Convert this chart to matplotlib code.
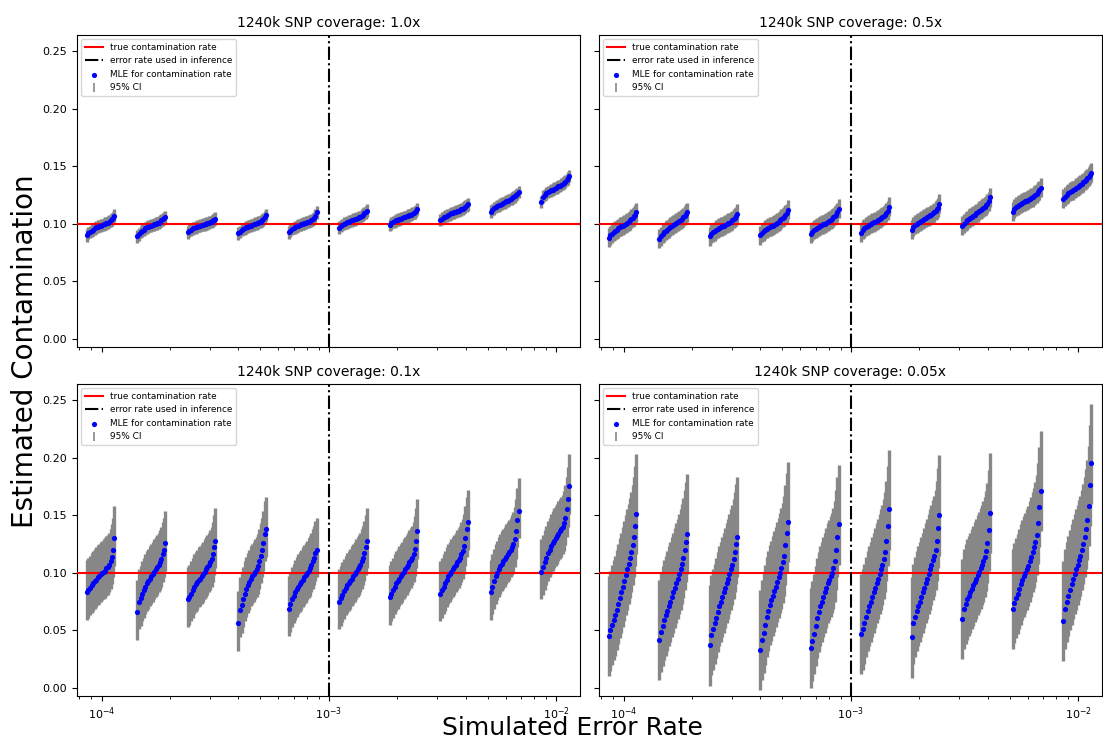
import numpy as np
import matplotlib
matplotlib.use("Agg")
import matplotlib.pyplot as plt

# ---------------- data ----------------
error_rates = [1.00e-4, 1.67e-4, 2.78e-4, 4.64e-4, 7.74e-4,
               1.29e-3, 2.15e-3, 3.59e-3, 5.99e-3, 1.00e-2]
inference_error_rate = 1e-3
true_contamination = 0.1
coverages = ["1.0x", "0.5x", "0.1x", "0.05x"]

# sorted MLEs (per error-rate cluster), coverage 1.0x
mle_cov_1_0 = [
    [0.090, 0.092, 0.093, 0.094, 0.095, 0.096, 0.097, 0.0975, 0.098, 0.0985, 0.099, 0.0995, 0.100, 0.1005, 0.101, 0.102, 0.103, 0.104, 0.105, 0.107],
    [0.089, 0.091, 0.093, 0.094, 0.095, 0.096, 0.097, 0.0975, 0.098, 0.0985, 0.099, 0.0995, 0.100, 0.1005, 0.101, 0.102, 0.103, 0.104, 0.105, 0.106],
    [0.0925, 0.094, 0.095, 0.096, 0.0965, 0.097, 0.0975, 0.098, 0.0985, 0.099, 0.0993, 0.0997, 0.100, 0.1005, 0.101, 0.1015, 0.102, 0.103, 0.1035, 0.1045],
    [0.0917, 0.093, 0.0945, 0.0955, 0.0962, 0.097, 0.0975, 0.098, 0.0985, 0.099, 0.0995, 0.100, 0.1005, 0.101, 0.1015, 0.102, 0.103, 0.104, 0.1055, 0.1076],
    [0.0926, 0.094, 0.0955, 0.0965, 0.097, 0.0978, 0.0985, 0.099, 0.0995, 0.100, 0.1005, 0.101, 0.1015, 0.102, 0.1025, 0.103, 0.104, 0.105, 0.107, 0.110],
    [0.0966, 0.098, 0.099, 0.100, 0.1007, 0.1013, 0.102, 0.1025, 0.103, 0.1035, 0.104, 0.1045, 0.105, 0.1055, 0.106, 0.107, 0.108, 0.109, 0.110, 0.1114],
    [0.099, 0.1005, 0.1015, 0.1022, 0.103, 0.1035, 0.104, 0.1045, 0.105, 0.1055, 0.106, 0.1065, 0.107, 0.1075, 0.108, 0.1088, 0.1095, 0.110, 0.111, 0.1128],
    [0.1033, 0.1045, 0.1055, 0.1062, 0.107, 0.1077, 0.1083, 0.109, 0.1095, 0.110, 0.1105, 0.111, 0.1115, 0.112, 0.1127, 0.1133, 0.114, 0.115, 0.116, 0.1169],
    [0.1105, 0.112, 0.1135, 0.1145, 0.1155, 0.116, 0.1167, 0.1175, 0.118, 0.1187, 0.1195, 0.120, 0.1207, 0.1215, 0.1222, 0.123, 0.124, 0.125, 0.126, 0.1276],
    [0.119, 0.1236, 0.125, 0.1265, 0.1275, 0.1285, 0.129, 0.1297, 0.1305, 0.131, 0.1318, 0.1325, 0.133, 0.134, 0.1348, 0.1357, 0.1367, 0.138, 0.1395, 0.1415],
]

# coverage 0.5x
mle_cov_0_5 = [
    [0.088, 0.090, 0.0915, 0.093, 0.094, 0.095, 0.096, 0.097, 0.0978, 0.0985, 0.0993, 0.100, 0.101, 0.102, 0.103, 0.104, 0.105, 0.1065, 0.108, 0.110],
    [0.087, 0.089, 0.091, 0.0925, 0.094, 0.095, 0.096, 0.097, 0.098, 0.099, 0.0998, 0.1005, 0.1015, 0.1025, 0.1035, 0.1045, 0.1055, 0.107, 0.1085, 0.110],
    [0.089, 0.091, 0.0925, 0.0935, 0.0945, 0.0955, 0.0962, 0.097, 0.0977, 0.0985, 0.099, 0.0997, 0.1005, 0.101, 0.102, 0.103, 0.104, 0.105, 0.1065, 0.1085],
    [0.090, 0.092, 0.0935, 0.0945, 0.0955, 0.0963, 0.097, 0.0978, 0.0985, 0.0993, 0.100, 0.101, 0.102, 0.103, 0.104, 0.105, 0.106, 0.1075, 0.109, 0.112],
    [0.091, 0.093, 0.0945, 0.0955, 0.0965, 0.0972, 0.098, 0.0988, 0.0995, 0.100, 0.101, 0.102, 0.1025, 0.1035, 0.1045, 0.1055, 0.107, 0.108, 0.110, 0.113],
    [0.092, 0.0945, 0.096, 0.097, 0.098, 0.099, 0.0998, 0.1005, 0.1013, 0.102, 0.1027, 0.1035, 0.1043, 0.105, 0.106, 0.107, 0.108, 0.1095, 0.111, 0.115],
    [0.095, 0.0975, 0.099, 0.100, 0.101, 0.102, 0.1027, 0.1035, 0.1042, 0.105, 0.1057, 0.1065, 0.1073, 0.108, 0.109, 0.110, 0.111, 0.1125, 0.114, 0.117],
    [0.098, 0.100, 0.1015, 0.103, 0.104, 0.105, 0.106, 0.107, 0.108, 0.109, 0.110, 0.111, 0.112, 0.113, 0.114, 0.115, 0.116, 0.1175, 0.1195, 0.123],
    [0.1105, 0.113, 0.1145, 0.1155, 0.1165, 0.1175, 0.118, 0.1188, 0.1195, 0.120, 0.1207, 0.1215, 0.1222, 0.123, 0.124, 0.125, 0.126, 0.1275, 0.129, 0.131],
    [0.1215, 0.1235, 0.125, 0.1265, 0.1275, 0.1285, 0.129, 0.130, 0.131, 0.132, 0.133, 0.134, 0.135, 0.136, 0.137, 0.1385, 0.1395, 0.141, 0.1425, 0.144],
]

# coverage 0.1x
mle_cov_0_1 = [
    [0.083, 0.085, 0.087, 0.089, 0.091, 0.093, 0.094, 0.096, 0.097, 0.099, 0.100, 0.101, 0.102, 0.104, 0.105, 0.107, 0.110, 0.114, 0.120, 0.130],
    [0.066, 0.075, 0.078, 0.082, 0.085, 0.088, 0.091, 0.093, 0.095, 0.097, 0.099, 0.101, 0.103, 0.105, 0.107, 0.109, 0.112, 0.116, 0.120, 0.126],
    [0.077, 0.079, 0.082, 0.085, 0.088, 0.090, 0.092, 0.094, 0.095, 0.097, 0.099, 0.101, 0.103, 0.105, 0.107, 0.109, 0.112, 0.116, 0.122, 0.128],
    [0.056, 0.068, 0.072, 0.077, 0.082, 0.086, 0.089, 0.092, 0.095, 0.097, 0.099, 0.101, 0.103, 0.106, 0.110, 0.115, 0.120, 0.126, 0.134, 0.138],
    [0.069, 0.073, 0.077, 0.080, 0.083, 0.086, 0.088, 0.090, 0.092, 0.094, 0.096, 0.098, 0.100, 0.102, 0.104, 0.107, 0.110, 0.113, 0.117, 0.120],
    [0.075, 0.078, 0.081, 0.084, 0.087, 0.089, 0.091, 0.093, 0.095, 0.097, 0.099, 0.101, 0.103, 0.105, 0.107, 0.110, 0.113, 0.117, 0.122, 0.128],
    [0.079, 0.082, 0.085, 0.088, 0.091, 0.093, 0.095, 0.097, 0.099, 0.101, 0.103, 0.105, 0.107, 0.109, 0.111, 0.113, 0.116, 0.121, 0.128, 0.136],
    [0.082, 0.085, 0.088, 0.091, 0.094, 0.097, 0.099, 0.101, 0.103, 0.105, 0.107, 0.109, 0.111, 0.113, 0.116, 0.119, 0.123, 0.130, 0.138, 0.144],
    [0.083, 0.088, 0.093, 0.097, 0.100, 0.103, 0.106, 0.108, 0.110, 0.112, 0.114, 0.116, 0.118, 0.120, 0.122, 0.125, 0.129, 0.136, 0.146, 0.154],
    [0.101, 0.105, 0.109, 0.113, 0.117, 0.120, 0.123, 0.126, 0.128, 0.130, 0.132, 0.134, 0.136, 0.138, 0.140, 0.143, 0.148, 0.155, 0.164, 0.175],
]

# coverage 0.05x
mle_cov_0_05 = [
    [0.045, 0.050, 0.055, 0.059, 0.063, 0.068, 0.073, 0.078, 0.083, 0.088, 0.093, 0.098, 0.103, 0.108, 0.113, 0.118, 0.124, 0.131, 0.141, 0.151],
    [0.042, 0.049, 0.054, 0.059, 0.063, 0.067, 0.071, 0.075, 0.079, 0.083, 0.087, 0.091, 0.095, 0.099, 0.103, 0.108, 0.113, 0.120, 0.127, 0.134],
    [0.037, 0.046, 0.051, 0.056, 0.061, 0.066, 0.071, 0.075, 0.079, 0.083, 0.087, 0.091, 0.095, 0.099, 0.103, 0.107, 0.112, 0.118, 0.125, 0.131],
    [0.033, 0.042, 0.048, 0.055, 0.062, 0.067, 0.072, 0.076, 0.080, 0.084, 0.088, 0.092, 0.096, 0.100, 0.104, 0.109, 0.115, 0.124, 0.135, 0.144],
    [0.035, 0.041, 0.047, 0.054, 0.061, 0.066, 0.071, 0.075, 0.079, 0.083, 0.087, 0.091, 0.094, 0.097, 0.100, 0.104, 0.110, 0.120, 0.131, 0.142],
    [0.047, 0.051, 0.056, 0.062, 0.067, 0.071, 0.075, 0.079, 0.083, 0.087, 0.091, 0.095, 0.099, 0.103, 0.107, 0.112, 0.118, 0.128, 0.141, 0.155],
    [0.044, 0.056, 0.062, 0.067, 0.071, 0.075, 0.079, 0.083, 0.087, 0.091, 0.095, 0.099, 0.103, 0.107, 0.111, 0.115, 0.120, 0.128, 0.139, 0.150],
    [0.060, 0.069, 0.073, 0.077, 0.080, 0.083, 0.086, 0.089, 0.092, 0.095, 0.098, 0.101, 0.104, 0.107, 0.110, 0.114, 0.119, 0.126, 0.137, 0.152],
    [0.069, 0.074, 0.078, 0.082, 0.086, 0.090, 0.094, 0.097, 0.100, 0.103, 0.106, 0.110, 0.114, 0.118, 0.122, 0.127, 0.133, 0.143, 0.157, 0.171],
    [0.058, 0.069, 0.075, 0.080, 0.085, 0.090, 0.095, 0.099, 0.103, 0.107, 0.111, 0.115, 0.120, 0.125, 0.131, 0.138, 0.146, 0.158, 0.176, 0.195],
]

# typical 95% CI half-widths (below / above the MLE) per coverage
ci_lower_width = [0.0055, 0.008, 0.024, 0.035]
ci_upper_width = [0.0055, 0.0085, 0.028, 0.052]

panel_mles = [mle_cov_1_0, mle_cov_0_5, mle_cov_0_1, mle_cov_0_05]

# ---------------- figure ----------------
fig, axes = plt.subplots(2, 2, sharex=True, sharey=True, figsize=(11.03, 7.42), dpi=100)
fig.subplots_adjust(left=0.0698, right=0.999, top=0.9528, bottom=0.062,
                    wspace=0.038, hspace=0.1186)

spread = np.linspace(-0.14, 0.14, 20)   # horizontal spread of replicates inside a cluster

for k, ax in enumerate(axes.flat):
    xs, ys = [], []
    for e, vals in zip(error_rates, panel_mles[k]):
        xs.append(e * (1 + spread))
        ys.append(np.array(vals))
    x = np.concatenate(xs)
    y = np.concatenate(ys)

    ax.axhline(true_contamination, color="red", lw=1.5, label="true contamination rate", zorder=4)
    ax.axvline(inference_error_rate, color="black", ls="-.", lw=1.5,
               label="error rate used in inference", zorder=4)
    ax.scatter(x, y, s=14, color="blue", label="MLE for contamination rate", zorder=5,
               linewidths=0)
    ax.errorbar(x, y, yerr=[np.full_like(y, ci_lower_width[k]), np.full_like(y, ci_upper_width[k])],
                fmt="none", ecolor="#878787", elinewidth=2.4, capsize=0, label="95% CI", zorder=2)

    ax.set_xscale("log")
    ax.set_xlim(7.8e-5, 0.0127)
    ax.set_ylim(-0.007, 0.264)
    ax.set_yticks([0.0, 0.05, 0.10, 0.15, 0.20, 0.25])
    ax.set_title(f"1240k SNP coverage: {coverages[k]}", fontsize=10)
    ax.tick_params(labelsize=8)
    leg = ax.legend(loc="upper left", fontsize=6.4, framealpha=0.8)
    try:
        leg.legend_handles[3].set_linewidth(1.2)
    except Exception:
        pass

fig.text(0.519, 0.009, "Simulated Error Rate", ha="center", va="baseline", fontsize=18)
fig.text(0.023, 0.527, "Estimated Contamination", ha="center", va="center",
         rotation=90, fontsize=20)

fig.savefig("out.png", dpi=100)
